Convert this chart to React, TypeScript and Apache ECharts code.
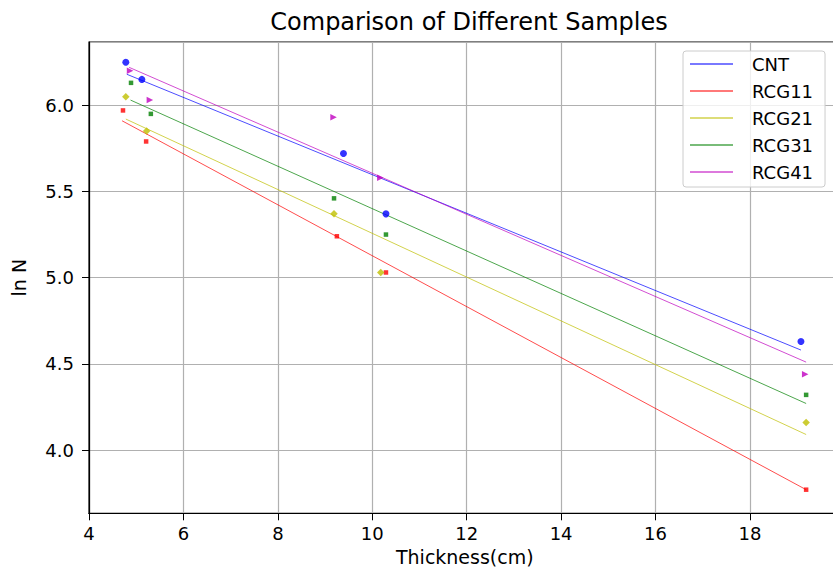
import React, { useEffect, useRef } from "react";
import * as echarts from "echarts";

const seriesNames = ["CNT", "RCG11", "RCG21", "RCG31", "RCG41"];
const seriesColors = ["#0000ff", "#ff0000", "#bfbf00", "#008000", "#bf00bf"];
const markerSymbols = ["circle", "rect", "diamond", "rect", "triangle"];
const markerSizes = [7, 4.5, 7.5, 4.5, 6.5];
const markerRotate = [0, 0, 0, 0, -90];

// measured points [thickness, ln N]
const cntPoints = [[4.78, 6.25], [5.12, 6.15], [9.39, 5.72], [10.29, 5.37], [19.08, 4.63]];
const rcg11Points = [[4.72, 5.97], [5.21, 5.79], [9.25, 5.24], [10.29, 5.03], [19.19, 3.77]];
const rcg21Points = [[4.78, 6.05], [5.22, 5.85], [9.19, 5.37], [10.18, 5.03], [19.19, 4.16]];
const rcg31Points = [[4.89, 6.13], [5.31, 5.95], [9.19, 5.46], [10.29, 5.25], [19.19, 4.32]];
const rcg41Points = [[4.87, 6.2], [5.29, 6.03], [9.18, 5.93], [10.17, 5.58], [19.17, 4.44]];

// fitted line end points [thickness, ln N]
const cntFit = [[4.8, 6.18], [19.08, 4.58]];
const rcg11Fit = [[4.7, 5.91], [19.19, 3.77]];
const rcg21Fit = [[4.78, 5.92], [19.19, 4.09]];
const rcg31Fit = [[4.88, 6.03], [19.19, 4.27]];
const rcg41Fit = [[4.85, 6.22], [19.19, 4.51]];

const allPoints = [cntPoints, rcg11Points, rcg21Points, rcg31Points, rcg41Points];
const allFits = [cntFit, rcg11Fit, rcg21Fit, rcg31Fit, rcg41Fit];

const xMin = 4;
const xMax = 19.92;
const yMin = 3.633;
const yMax = 6.367;

const FONT = "DejaVu Sans";

export default function App() {
  const ref = useRef<HTMLDivElement>(null);
  useEffect(() => {
    if (!ref.current) return;
    const chart = echarts.init(ref.current, undefined, { renderer: "svg" });
    const series: any[] = [];
    seriesNames.forEach((name, i) => {
      series.push({
        name,
        type: "line",
        data: allFits[i],
        showSymbol: false,
        symbol: "none",
        lineStyle: { color: seriesColors[i], width: 1, opacity: 0.7 },
        itemStyle: { color: seriesColors[i], opacity: 0.7 },
        z: 2,
      });
    });
    seriesNames.forEach((name, i) => {
      series.push({
        name: name + " data",
        type: "scatter",
        data: allPoints[i],
        symbol: markerSymbols[i],
        symbolSize: markerSizes[i],
        symbolRotate: markerRotate[i],
        itemStyle: { color: seriesColors[i] },
        z: 3,
      });
    });
    chart.setOption({
      animation: false,
      backgroundColor: "#ffffff",
      title: {
        text: "Comparison of Different Samples",
        left: 464,
        textAlign: "center",
        top: 5,
        textStyle: { fontFamily: FONT, fontSize: 24, fontWeight: "normal", color: "#000" },
      },
      legend: {
        data: seriesNames.map((n, i) => ({
          name: n,
          icon: "rect",
          itemStyle: { color: seriesColors[i], opacity: 0.7 },
        })),
        orient: "vertical",
        left: 683,
        top: 51,
        itemWidth: 43,
        itemHeight: 1.5,
        itemGap: 9,
        padding: [4, 12, 6, 7],
        backgroundColor: "rgba(255,255,255,0.8)",
        borderColor: "#cccccc",
        borderWidth: 1,
        borderRadius: 3,
        textStyle: {
          fontFamily: FONT,
          fontSize: 18,
          lineHeight: 18,
          color: "#000",
          padding: [0, 0, 0, 14],
        },
      },
      grid: {
        left: 89,
        top: 42,
        width: 751.6,
        height: 471.3,
        outerBoundsMode: "none",
        containLabel: false,
        show: true,
        borderColor: "#000",
        borderWidth: 1.2,
        backgroundColor: "transparent",
      },
      xAxis: {
        type: "value",
        min: xMin,
        max: xMax,
        interval: 2,
        name: "Thickness(cm)",
        nameLocation: "middle",
        nameGap: 32,
        nameTextStyle: { fontFamily: FONT, fontSize: 19, color: "#000" },
        axisLine: { show: true, onZero: false, lineStyle: { color: "#000", width: 1.2 } },
        axisTick: { show: true, length: 7, lineStyle: { color: "#000" } },
        axisLabel: {
          fontFamily: FONT,
          fontSize: 18,
          color: "#000",
          margin: 11,
          showMaxLabel: false,
          formatter: (v: number) => (Math.abs(v / 2 - Math.round(v / 2)) < 1e-6 ? String(v) : ""),
        },
        splitLine: { show: true, lineStyle: { color: "#b0b0b0", width: 1.2 } },
      },
      yAxis: {
        type: "value",
        min: yMin,
        max: yMax,
        splitNumber: 5,
        name: "ln N",
        nameLocation: "middle",
        nameGap: 61,
        nameTextStyle: { fontFamily: FONT, fontSize: 19, color: "#000" },
        axisLine: { show: true, onZero: false, lineStyle: { color: "#000", width: 1.2 } },
        axisTick: { show: true, length: 7, lineStyle: { color: "#000" } },
        axisLabel: {
          fontFamily: FONT,
          fontSize: 18,
          color: "#000",
          margin: 15,
          showMinLabel: false,
          showMaxLabel: false,
          formatter: (v: number) =>
            Math.abs(v * 2 - Math.round(v * 2)) < 1e-6 ? v.toFixed(1) : "",
        },
        splitLine: { show: true, lineStyle: { color: "#b0b0b0", width: 1.2 } },
      },
      series,
    });
    return () => chart.dispose();
  }, []);
  return (
    <div
      ref={ref}
      style={{ position: "fixed", left: 0, top: 0, width: 833, height: 569, background: "#fff" }}
    />
  );
}
